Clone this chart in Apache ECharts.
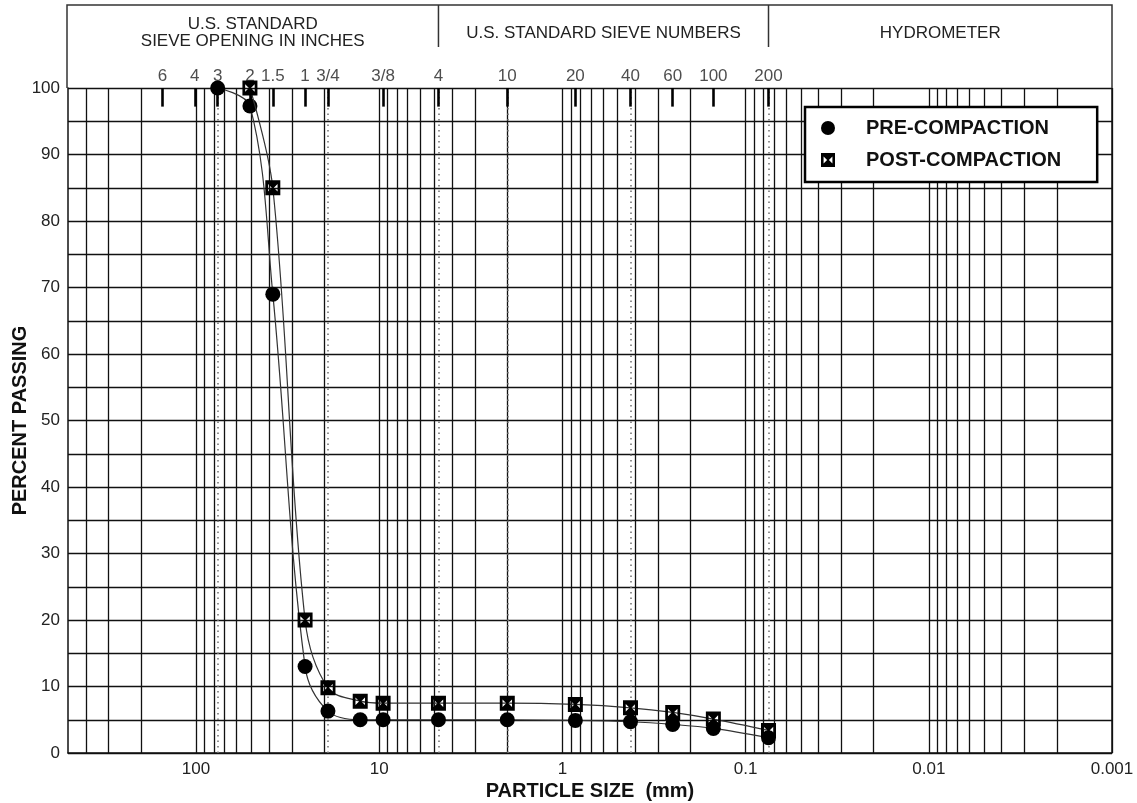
<!DOCTYPE html>
<html><head><meta charset="utf-8">
<script src="https://cdn.jsdelivr.net/npm/echarts@6/dist/echarts.min.js"></script>
<style>html,body{margin:0;padding:0;background:#fff}#c{width:1137px;height:803px}</style>
</head><body><div id="c"></div>
<script>
// ---- data ----
const sizesPre = [76.2, 50.8, 38.1, 25.4, 19.05, 12.7, 9.525, 4.75, 2.0, 0.85, 0.425, 0.25, 0.15, 0.075];
const pctPre   = [100, 97.3, 69, 13, 6.3, 5.0, 5.0, 5.0, 5.0, 4.9, 4.7, 4.3, 3.7, 2.3];
const sizesPost = [50.8, 38.1, 25.4, 19.05, 12.7, 9.525, 4.75, 2.0, 0.85, 0.425, 0.25, 0.15, 0.075];
const pctPost   = [100, 85, 20, 9.8, 7.8, 7.5, 7.5, 7.5, 7.3, 6.8, 6.1, 5.1, 3.4];
const sieveLabels = ['6','4','3','2','1.5','1','3/4','3/8','4','10','20','40','60','100','200'];
const sieveSizes  = [152.4, 101.6, 76.2, 50.8, 38.1, 25.4, 19.05, 9.525, 4.75, 2.0, 0.85, 0.425, 0.25, 0.15, 0.075];
const dottedSizes = [76.2, 19.05, 4.75, 2.0, 0.425, 0.075];
const headerTexts = ['U.S. STANDARD\nSIEVE OPENING IN INCHES', 'U.S. STANDARD SIEVE NUMBERS', 'HYDROMETER'];
const headerBounds = [500, 4.75, 0.075, 0.001];
const seriesNames = ['PRE-COMPACTION', 'POST-COMPACTION'];

// log grid (1..9 x each decade) inside 0.001..500
const logGrid = [];
for (let e = -3; e <= 2; e++) {
  for (let k = 1; k <= 9; k++) {
    const v = +(k * Math.pow(10, e)).toPrecision(3);
    if (v < 500) logGrid.push(v);
  }
}

const FONT = "'Liberation Sans', Arial, sans-serif";
const INK = '#111';
const postIcon = 'path://M0,0L12,0L12,12L0,12Z M2.2,3L2.2,9L5.2,6Z M9.8,3L6.8,6L9.8,9Z';

const chart = echarts.init(document.getElementById('c'));
const GL = 68, GR = 25, GT = 88, GB = 50;

function fmtX(v) {
  if (v >= 1) return String(Math.round(v));
  return String(+v.toPrecision(1));
}

chart.setOption({
  animation: false,
  backgroundColor: '#fff',
  textStyle: { fontFamily: FONT },
  grid: { left: GL, right: GR, top: GT, bottom: GB, containLabel: false, outerBoundsMode: 'none' },
  xAxis: {
    type: 'log', logBase: 10, min: 0.001, max: 500, inverse: true,
    axisLine: { show: true, onZero: false, lineStyle: { color: INK, width: 1.5 } },
    axisTick: { show: false },
    axisLabel: { fontSize: 17, color: '#222', margin: 8, fontFamily: FONT, formatter: fmtX, showMaxLabel: false, showMinLabel: true },
    splitLine: { show: false },
    name: 'PARTICLE SIZE  (mm)', nameLocation: 'middle', nameGap: 28, nameMoveOverlap: false,
    nameTextStyle: { fontSize: 20, fontWeight: 'bold', color: INK, fontFamily: FONT }
  },
  yAxis: {
    type: 'value', min: 0, max: 100, interval: 10,
    axisLine: { show: true, onZero: false, lineStyle: { color: INK, width: 1.5 } },
    axisTick: { show: false },
    axisLabel: { fontSize: 17, color: '#222', margin: 8, fontFamily: FONT },
    splitLine: { show: true, lineStyle: { color: INK, width: 1.3 } },
    minorTick: { show: false, splitNumber: 2 },
    minorSplitLine: { show: true, lineStyle: { color: INK, width: 1.3 } },
    name: 'PERCENT PASSING', nameLocation: 'middle', nameGap: 38, nameMoveOverlap: false,
    nameTextStyle: { fontSize: 20, fontWeight: 'bold', color: INK, fontFamily: FONT }
  },
  legend: {
    data: [{ name: seriesNames[0], icon: 'circle' }, { name: seriesNames[1], icon: postIcon }],
    orient: 'vertical', left: 805, top: 107, z: 20,
    itemWidth: 14, itemHeight: 14, itemGap: 12,
    padding: [11, 36, 12, 16],
    backgroundColor: '#fff', borderColor: '#000', borderWidth: 2.5, borderRadius: 0,
    selectedMode: false,
    textStyle: { fontSize: 20, fontWeight: 'bold', color: INK, fontFamily: FONT, padding: [0, 0, 0, 26] }
  },
  series: [
    {
      name: 'grid-helper', type: 'line', data: [], z: 1, silent: true,
      markLine: {
        silent: true, symbol: 'none', animation: false, precision: 8,
        label: { show: false },
        lineStyle: { color: INK, width: 1.3, type: 'solid' },
        data: logGrid.map(v => ({ xAxis: v }))
          .concat(dottedSizes.map(v => ({ xAxis: v, lineStyle: { color: '#777', width: 1.6, type: [1.5, 4] } })))
          .concat(sieveSizes.map(v => [{ coord: [v, 100], lineStyle: { color: '#000', width: 2.6, type: 'solid' } }, { coord: [v, 97.2] }]))
      }
    },
    {
      name: 'sieve-labels', type: 'scatter', z: 3, silent: true, clip: false,
      symbolSize: 0,
      data: sieveSizes.map((v, i) => ({ value: [v, 100], name: sieveLabels[i] })),
      label: { show: true, position: 'top', distance: 3, formatter: p => p.name,
               fontSize: 17, color: '#222', fontFamily: FONT }
    },
    {
      name: seriesNames[0], type: 'line', z: 10,
      data: sizesPre.map((v, i) => [v, pctPre[i]]),
      smooth: 0.35, symbol: 'circle', symbolSize: 15, showAllSymbol: true,
      lineStyle: { color: '#333', width: 1.2 },
      itemStyle: { color: '#000', borderWidth: 0 }
    },
    {
      name: seriesNames[1], type: 'line', z: 11,
      data: sizesPost.map((v, i) => [v, pctPost[i]]),
      smooth: 0.35, symbol: postIcon, symbolSize: 15, showAllSymbol: true,
      lineStyle: { color: '#333', width: 1.2 },
      itemStyle: { color: '#000', borderWidth: 0 }
    }
  ]
});

// header box above the plot, dividers aligned to the #4 and #200 sieves
const W = chart.getWidth();
const xs = headerBounds.map(v => chart.convertToPixel({ xAxisIndex: 0 }, v));
const xL = GL - 1, xR = W - GR, yTop = 5, yDiv = 47;
const g = [
  { type: 'polyline', shape: { points: [[xL, GT], [xL, yTop], [xR, yTop], [xR, GT]] },
    style: { stroke: '#333', lineWidth: 1.5, fill: null }, silent: true },
  { type: 'line', shape: { x1: xR, y1: GT, x2: xR, y2: chart.getHeight() - GB },
    style: { stroke: INK, lineWidth: 1.5 }, silent: true }
];
[xs[1], xs[2]].forEach(x => g.push({ type: 'line', shape: { x1: x, y1: yTop, x2: x, y2: yDiv },
  style: { stroke: '#333', lineWidth: 1.5 }, silent: true }));
headerTexts.forEach((t, i) => {
  const a = i === 0 ? xL : xs[i], b = i === 2 ? xR : xs[i + 1];
  g.push({ type: 'text', x: (a + b) / 2, y: 33, silent: true,
    style: { text: t, fontSize: 17, fontFamily: FONT, fill: '#222', align: 'center', verticalAlign: 'middle', lineHeight: 17 } });
});
chart.setOption({ graphic: g });
</script>
</body></html>
